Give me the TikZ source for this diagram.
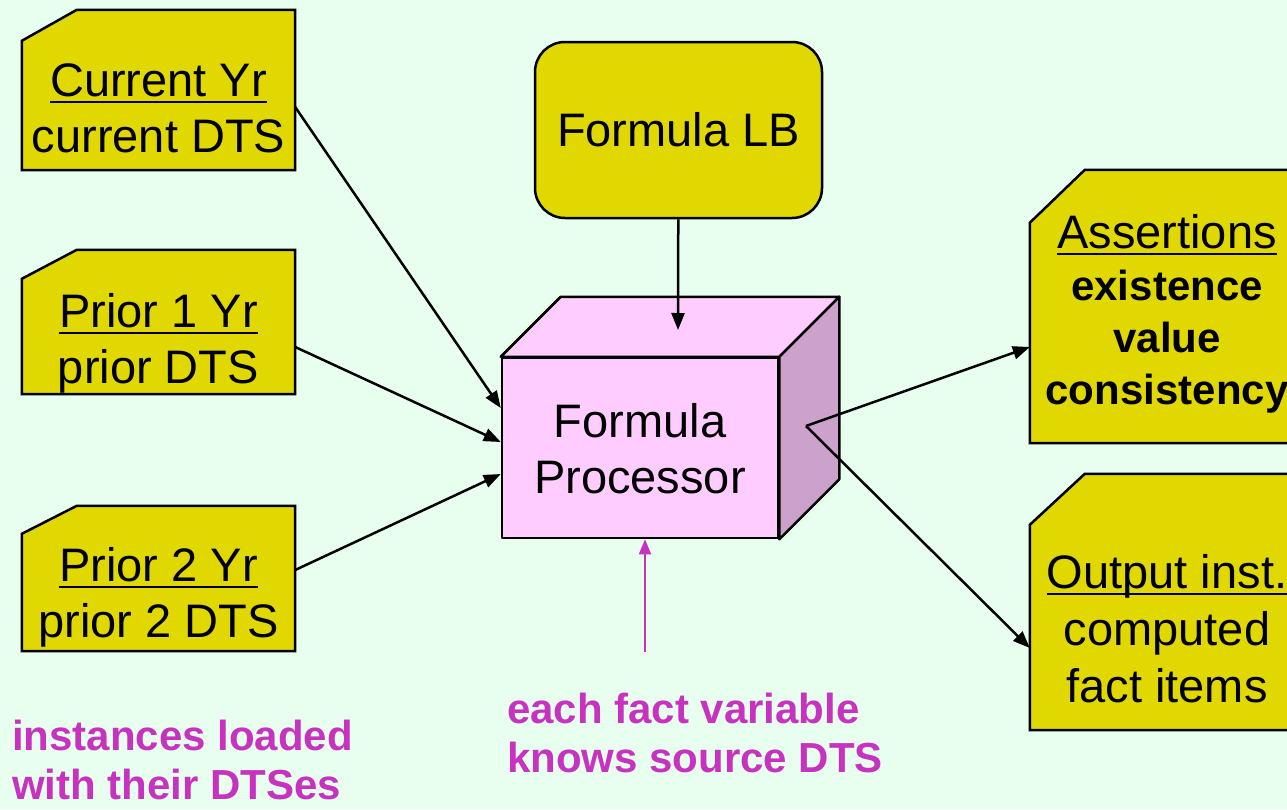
\documentclass[tikz,border=0pt]{standalone}
\usepackage{fontspec}
\setmainfont{Liberation Sans}
\usetikzlibrary{arrows.meta}

\definecolor{bgmint}{HTML}{E8FFEF}
\definecolor{docyellow}{HTML}{E0D800}
\definecolor{cubepink}{HTML}{FFCCFF}
\definecolor{cubeside}{HTML}{CCA2CC}
\definecolor{notemag}{HTML}{C832C0}

\newcommand{\docul}[1]{\setbox0\hbox{#1}\rlap{\rule[-7pt]{\wd0}{2.5pt}}\box0}
\newcommand{\docshape}[3]{\draw [docshape] ([yshift=-#3]#1.north west) -- ([xshift=#2]#1.north west) -- (#1.north east) -- (#1.south east) -- (#1.south west) -- cycle;}

\tikzstyle{docbox} = [rectangle, minimum width=273pt, inner sep=0pt]
\tikzstyle{docshape} = [fill=docyellow, draw=black, line width=2.5pt, line join=miter]
\tikzstyle{doctext} = [align=center, anchor=base, inner sep=0pt, font=\fontsize{47}{56}\selectfont]
\tikzstyle{lbbox} = [rectangle, rounded corners=30pt, minimum width=287pt, minimum height=176pt, fill=docyellow, draw=black, line width=2.5pt, font=\fontsize{47}{56}\selectfont]
\tikzstyle{cubeface} = [fill=cubepink, draw=black, line width=2.5pt, line join=round]
\tikzstyle{note} = [align=left, anchor=base west, inner sep=0pt, text=notemag, font=\bfseries\fontsize{42}{49}\selectfont]
\tikzstyle{arrow} = [line width=2.5pt, ->, >={Triangle[length=17pt,width=13pt]}]
\tikzstyle{notearrow} = [line width=1.8pt, draw=notemag, ->, >={Triangle[length=15pt,width=12pt]}]

\begin{document}
\begin{tikzpicture}[x=1pt, y=-1pt]
    \useasboundingbox (0,0) rectangle (1287,809);
    \fill [bgmint] (0,0) rectangle (1287,809);

    \node (cur) [docbox, minimum height=160pt] at (158.5,90) {};
    \docshape{cur}{55pt}{31pt}
    \node (curtxt) [doctext] at (158.5,152) {\docul{Current Yr}\\current DTS};

    \node (pri1) [docbox, minimum height=144pt] at (158.5,322) {};
    \docshape{pri1}{55pt}{29pt}
    \node (pri1txt) [doctext] at (158.5,383) {\docul{Prior 1 Yr}\\prior DTS};

    \node (pri2) [docbox, minimum height=145pt] at (158.5,578.5) {};
    \docshape{pri2}{55pt}{28pt}
    \node (pri2txt) [doctext] at (158.5,637) {\docul{Prior 2 Yr}\\prior 2 DTS};

    \node (lb) [lbbox] at (678.5,130) {Formula LB};

    \node (proc) [cubeface, minimum width=276pt, minimum height=180pt] at (640,448) {};
    \filldraw [cubeface] (proc.north west) -- ++(60,-60) -- ([shift={(60,-60)}]proc.north east) -- (proc.north east) -- cycle;
    \filldraw [cubeface, fill=cubeside] (proc.north east) -- ++(60,-60) -- ([shift={(60,-60)}]proc.south east) -- (proc.south east) -- cycle;
    \node (proctxt) [doctext] at (640,493) {Formula\\Processor};

    \node (asrt) [docbox, minimum width=274pt, minimum height=273pt] at (1167,306.5) {};
    \docshape{asrt}{55pt}{53pt}
    \node (asrttxt) [doctext, font=\bfseries\fontsize{42}{52}\selectfont] at (1167,404) {\mdseries\fontsize{47}{52}\selectfont\docul{Assertions}\\existence\\value\\consistency};

    \node (outi) [docbox, minimum width=274pt, minimum height=256pt] at (1167,602) {};
    \docshape{outi}{55pt}{51pt}
    \node (outitxt) [doctext, font=\fontsize{47}{57}\selectfont] at (1167,702) {\docul{Output inst.}\\computed\\fact items};

    \node (note1) [note] at (12,799) {instances loaded\\with their DTSes};
    \node (note2) [note] at (507,772) {each fact variable\\knows source DTS};

    \coordinate (ptop) at (678,330);
    \coordinate (pout) at (806,426);
    \coordinate (nsrc) at (645,652);

    \draw [arrow] (lb) -- (ptop);
    \draw [arrow] ([yshift=-17pt]cur.east) -- ([yshift=40pt]proc.west);
    \draw [arrow] ([yshift=-25pt]pri1.east) -- ([yshift=6pt]proc.west);
    \draw [arrow] ([yshift=8.5pt]pri2.east) -- ([yshift=-26pt]proc.west);
    \draw [arrow] (pout) -- ([yshift=-40.5pt]asrt.west);
    \draw [arrow] (pout) -- ([yshift=-46pt]outi.west);
    \draw [notearrow] (nsrc) -- ([xshift=5pt]proc.south);
  \end{tikzpicture}
\end{document}
